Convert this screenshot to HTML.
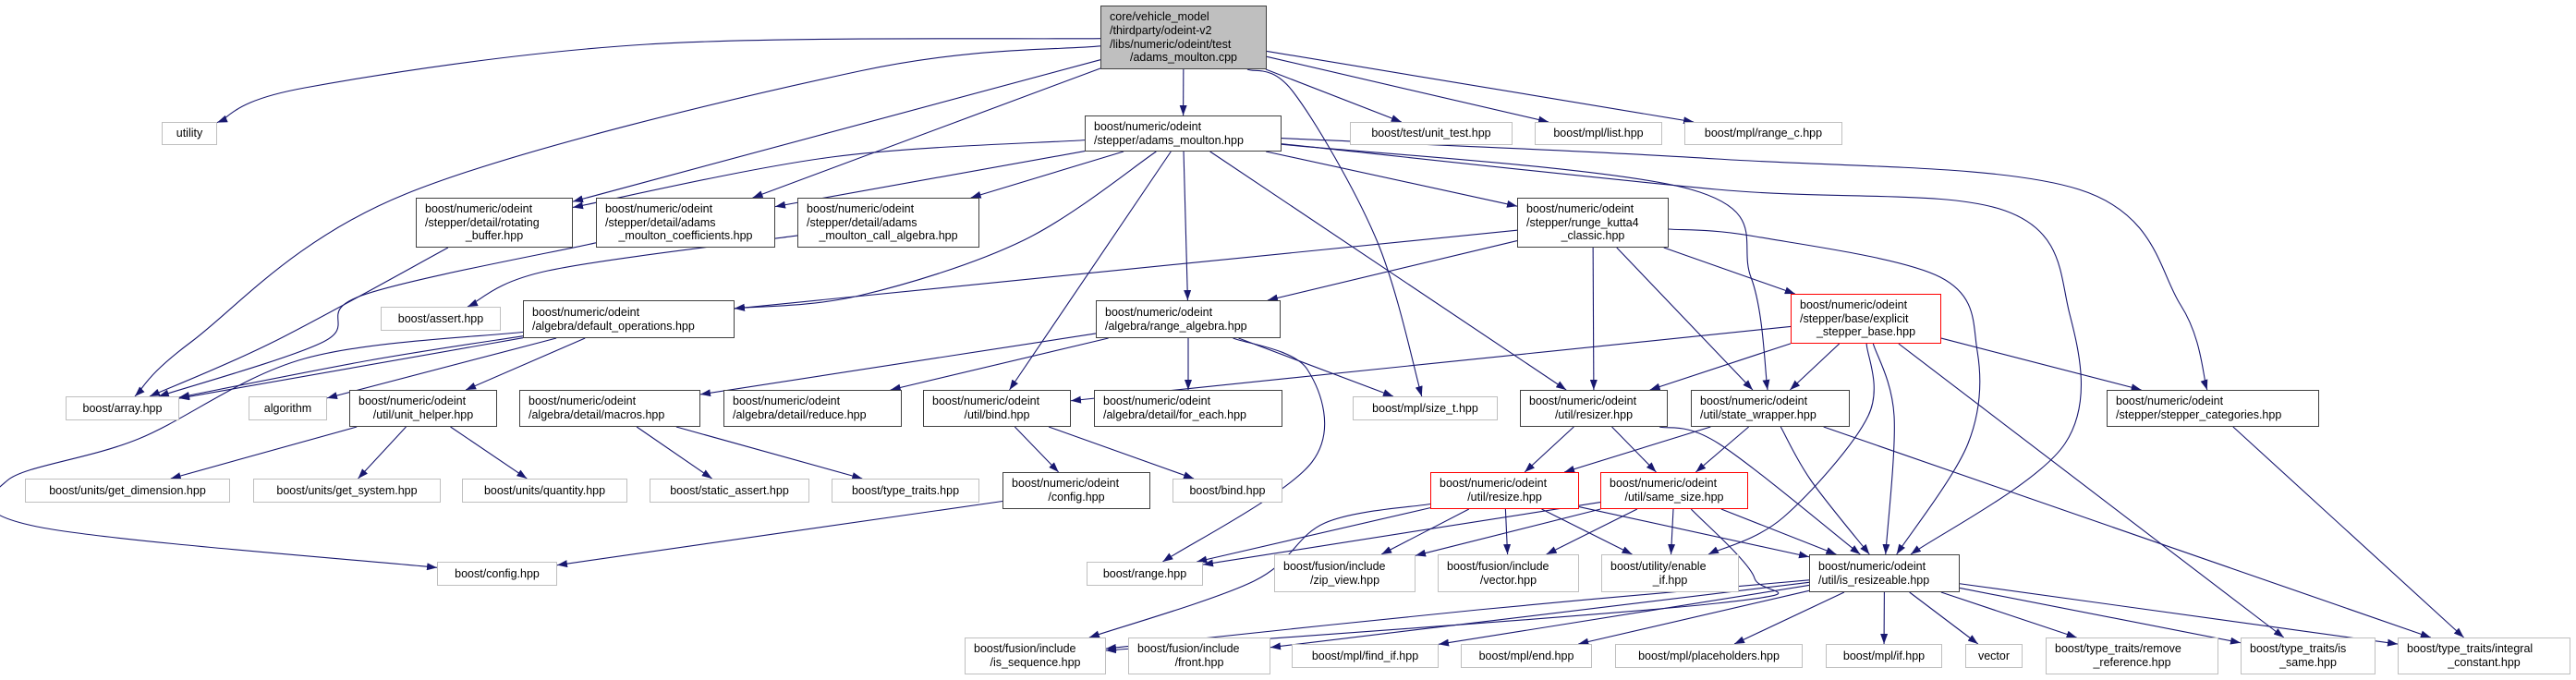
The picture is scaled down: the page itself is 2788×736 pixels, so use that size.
<!DOCTYPE html>
<html><head><meta charset="utf-8"><style>
html,body{margin:0;padding:0;background:#fff;}
#wrap{position:relative;width:2788px;height:736px;overflow:hidden;background:#fff;}
svg{position:absolute;left:0;top:0;}
.n{position:absolute;box-sizing:border-box;border:1px solid #404040;background:#fff;font-family:"Liberation Sans",sans-serif;font-size:12.5px;line-height:14.6px;color:#000;display:flex;flex-direction:column;justify-content:center;padding:0 9px;white-space:nowrap;overflow:visible;}
.g{border-color:#bfbfbf;}
.r{border-color:#ff0000;}
.root{background:#bfbfbf;}
.n span{display:block;text-align:left;}
.n span.c{text-align:center;}
</style></head><body><div id="wrap">
<svg id="s" width="2788" height="736" viewBox="0 0 2788 736">
<defs><marker id="a" markerUnits="userSpaceOnUse" markerWidth="11" markerHeight="8" refX="11" refY="4" orient="auto"><path d="M0,0 L11,4 L0,8 z" fill="#191970"/></marker></defs>
<g id="e" fill="none" stroke="#191970" stroke-width="1.1"></g>
</svg>
<div class="n root" id="root" style="left:1191px;top:6px;width:180px;height:69px"><span>core/vehicle_model</span><span>/thirdparty/odeint-v2</span><span>/libs/numeric/odeint/test</span><span class="c">/adams_moulton.cpp</span></div>
<div class="n g" id="utility" style="left:175px;top:132px;width:60px;height:25px"><span class="c">utility</span></div>
<div class="n" id="amh" style="left:1174px;top:125px;width:213px;height:39px"><span>boost/numeric/odeint</span><span>/stepper/adams_moulton.hpp</span></div>
<div class="n g" id="ut" style="left:1461px;top:132px;width:176px;height:25px"><span class="c">boost/test/unit_test.hpp</span></div>
<div class="n g" id="list" style="left:1661px;top:132px;width:138px;height:25px"><span class="c">boost/mpl/list.hpp</span></div>
<div class="n g" id="rangec" style="left:1823px;top:132px;width:171px;height:25px"><span class="c">boost/mpl/range_c.hpp</span></div>
<div class="n" id="rot" style="left:450px;top:214px;width:170px;height:54px"><span>boost/numeric/odeint</span><span>/stepper/detail/rotating</span><span class="c">_buffer.hpp</span></div>
<div class="n" id="coef" style="left:645px;top:214px;width:194px;height:54px"><span>boost/numeric/odeint</span><span>/stepper/detail/adams</span><span class="c">_moulton_coefficients.hpp</span></div>
<div class="n" id="call" style="left:863px;top:214px;width:197px;height:54px"><span>boost/numeric/odeint</span><span>/stepper/detail/adams</span><span class="c">_moulton_call_algebra.hpp</span></div>
<div class="n" id="rk4" style="left:1642px;top:214px;width:164px;height:54px"><span>boost/numeric/odeint</span><span>/stepper/runge_kutta4</span><span class="c">_classic.hpp</span></div>
<div class="n g" id="assert" style="left:412px;top:332px;width:130px;height:26px"><span class="c">boost/assert.hpp</span></div>
<div class="n" id="defop" style="left:566px;top:325px;width:229px;height:41px"><span>boost/numeric/odeint</span><span>/algebra/default_operations.hpp</span></div>
<div class="n" id="ralg" style="left:1186px;top:325px;width:200px;height:41px"><span>boost/numeric/odeint</span><span>/algebra/range_algebra.hpp</span></div>
<div class="n r" id="esb" style="left:1938px;top:318px;width:163px;height:54px"><span>boost/numeric/odeint</span><span>/stepper/base/explicit</span><span class="c">_stepper_base.hpp</span></div>
<div class="n g" id="array" style="left:71px;top:429px;width:123px;height:26px"><span class="c">boost/array.hpp</span></div>
<div class="n g" id="algo" style="left:269px;top:429px;width:85px;height:26px"><span class="c">algorithm</span></div>
<div class="n" id="unith" style="left:378px;top:422px;width:160px;height:40px"><span>boost/numeric/odeint</span><span class="c">/util/unit_helper.hpp</span></div>
<div class="n" id="macros" style="left:562px;top:422px;width:196px;height:40px"><span>boost/numeric/odeint</span><span>/algebra/detail/macros.hpp</span></div>
<div class="n" id="reduce" style="left:783px;top:422px;width:193px;height:40px"><span>boost/numeric/odeint</span><span>/algebra/detail/reduce.hpp</span></div>
<div class="n" id="ubind" style="left:999px;top:422px;width:160px;height:40px"><span>boost/numeric/odeint</span><span class="c">/util/bind.hpp</span></div>
<div class="n" id="foreach" style="left:1184px;top:422px;width:204px;height:40px"><span>boost/numeric/odeint</span><span>/algebra/detail/for_each.hpp</span></div>
<div class="n g" id="sizet" style="left:1464px;top:429px;width:157px;height:26px"><span class="c">boost/mpl/size_t.hpp</span></div>
<div class="n" id="resizer" style="left:1645px;top:422px;width:160px;height:40px"><span>boost/numeric/odeint</span><span class="c">/util/resizer.hpp</span></div>
<div class="n" id="sw" style="left:1830px;top:422px;width:172px;height:40px"><span>boost/numeric/odeint</span><span>/util/state_wrapper.hpp</span></div>
<div class="n" id="stcat" style="left:2280px;top:422px;width:230px;height:40px"><span>boost/numeric/odeint</span><span>/stepper/stepper_categories.hpp</span></div>
<div class="n g" id="getdim" style="left:27px;top:518px;width:222px;height:26px"><span class="c">boost/units/get_dimension.hpp</span></div>
<div class="n g" id="getsys" style="left:274px;top:518px;width:203px;height:26px"><span class="c">boost/units/get_system.hpp</span></div>
<div class="n g" id="qty" style="left:500px;top:518px;width:179px;height:26px"><span class="c">boost/units/quantity.hpp</span></div>
<div class="n g" id="sassert" style="left:703px;top:518px;width:173px;height:26px"><span class="c">boost/static_assert.hpp</span></div>
<div class="n g" id="tt" style="left:900px;top:518px;width:160px;height:26px"><span class="c">boost/type_traits.hpp</span></div>
<div class="n" id="ocfg" style="left:1085px;top:511px;width:160px;height:40px"><span>boost/numeric/odeint</span><span class="c">/config.hpp</span></div>
<div class="n g" id="bbind" style="left:1269px;top:518px;width:119px;height:26px"><span class="c">boost/bind.hpp</span></div>
<div class="n r" id="resize" style="left:1548px;top:511px;width:161px;height:40px"><span>boost/numeric/odeint</span><span class="c">/util/resize.hpp</span></div>
<div class="n r" id="same" style="left:1732px;top:511px;width:160px;height:40px"><span>boost/numeric/odeint</span><span class="c">/util/same_size.hpp</span></div>
<div class="n g" id="bcfg" style="left:473px;top:608px;width:130px;height:26px"><span class="c">boost/config.hpp</span></div>
<div class="n g" id="range" style="left:1176px;top:608px;width:126px;height:26px"><span class="c">boost/range.hpp</span></div>
<div class="n g" id="zip" style="left:1379px;top:600px;width:153px;height:41px"><span>boost/fusion/include</span><span class="c">/zip_view.hpp</span></div>
<div class="n g" id="fvec" style="left:1556px;top:600px;width:153px;height:41px"><span>boost/fusion/include</span><span class="c">/vector.hpp</span></div>
<div class="n g" id="enable" style="left:1733px;top:600px;width:149px;height:41px"><span>boost/utility/enable</span><span class="c">_if.hpp</span></div>
<div class="n" id="isr" style="left:1958px;top:600px;width:163px;height:41px"><span>boost/numeric/odeint</span><span>/util/is_resizeable.hpp</span></div>
<div class="n g" id="isseq" style="left:1044px;top:690px;width:153px;height:40px"><span>boost/fusion/include</span><span class="c">/is_sequence.hpp</span></div>
<div class="n g" id="front" style="left:1221px;top:690px;width:154px;height:40px"><span>boost/fusion/include</span><span class="c">/front.hpp</span></div>
<div class="n g" id="findif" style="left:1398px;top:697px;width:159px;height:26px"><span class="c">boost/mpl/find_if.hpp</span></div>
<div class="n g" id="end" style="left:1581px;top:697px;width:142px;height:26px"><span class="c">boost/mpl/end.hpp</span></div>
<div class="n g" id="ph" style="left:1748px;top:697px;width:203px;height:26px"><span class="c">boost/mpl/placeholders.hpp</span></div>
<div class="n g" id="mif" style="left:1976px;top:697px;width:126px;height:26px"><span class="c">boost/mpl/if.hpp</span></div>
<div class="n g" id="vec" style="left:2127px;top:697px;width:62px;height:26px"><span class="c">vector</span></div>
<div class="n g" id="rr" style="left:2214px;top:690px;width:187px;height:40px"><span>boost/type_traits/remove</span><span class="c">_reference.hpp</span></div>
<div class="n g" id="issame" style="left:2425px;top:690px;width:146px;height:40px"><span>boost/type_traits/is</span><span class="c">_same.hpp</span></div>
<div class="n g" id="ic" style="left:2595px;top:690px;width:187px;height:40px"><span>boost/type_traits/integral</span><span class="c">_constant.hpp</span></div>
</div>
<script>
(function(){
function R(id){var e=document.getElementById(id);var x=parseFloat(e.style.left),y=parseFloat(e.style.top),w=parseFloat(e.style.width),h=parseFloat(e.style.height);return {cx:x+w/2,cy:y+h/2,hw:w/2,hh:h/2};}
function bp(r,p){var dx=p[0]-r.cx,dy=p[1]-r.cy;if(dx===0&&dy===0)return [r.cx,r.cy];var t=Math.min(dx?r.hw/Math.abs(dx):1e9,dy?r.hh/Math.abs(dy):1e9);return [r.cx+dx*t,r.cy+dy*t];}
var E=[
['root','utility',[[700,48],[330,95]]],
['root','array',[[930,77],[439,210],[207,370]]],
['root','rot'],['root','coef'],['root','amh'],['root','ut'],['root','list'],['root','rangec'],
['root','sizet',[[1400,100],[1490,260]]],
['amh','rot',[[900,170]]],['amh','coef'],['amh','call'],
['amh','defop',[[1108,260],[930,320]]],
['amh','ubind'],['amh','ralg'],['amh','resizer'],['amh','rk4'],
['amh','sw',[[1830,205],[1895,300]]],
['amh','isr',[[1858,205],[2170,228],[2240,340],[2235,480]]],
['amh','stcat',[[1858,172],[2250,205],[2360,330]]],
['rk4','defop'],['rk4','ralg'],['rk4','resizer'],['rk4','sw'],['rk4','esb'],
['rk4','isr',[[1900,256],[2100,300],[2140,380],[2130,480]]],
['ralg','macros'],['ralg','reduce'],['ralg','foreach'],['ralg','sizet'],
['ralg','range',[[1415,400],[1420,500]]],
['esb','ubind'],['esb','resizer'],['esb','sw'],['esb','stcat'],['esb','isr',[[2050,450]]],
['esb','enable',[[2022,450],[1930,560]]],['esb','issame'],
['sw','resize'],['sw','same'],['sw','isr',[[1960,520]]],['sw','ic'],
['stcat','ic'],
['resizer','resize'],['resizer','same'],['resizer','isr',[[1860,480]]],
['resize','range'],['resize','zip'],['resize','fvec'],['resize','enable'],['resize','isr'],
['resize','isseq',[[1434,566],[1357,629]]],
['same','range'],['same','zip'],['same','fvec'],['same','enable'],['same','isr'],
['same','isseq',[[1899,626],[1858,653]]],
['isr','isseq',[[1600,660]]],['isr','front'],['isr','findif'],['isr','end'],['isr','ph'],['isr','mif'],['isr','vec'],['isr','rr'],['isr','issame'],['isr','ic'],
['unith','getdim'],['unith','getsys'],['unith','qty'],
['macros','sassert'],['macros','tt'],
['ubind','ocfg'],['ubind','bbind'],['ocfg','bcfg'],
['defop','array',[[400,390]]],['defop','array'],['defop','algo'],['defop','unith'],
['defop','bcfg',[[330,388],[150,475],[8,520],[40,570]]],
['rot','array',[[296,370]]],
['coef','array',[[391,320],[350,370]]],
['call','assert',[[593,293]]]
];
var g=document.getElementById('e'),ns='http://www.w3.org/2000/svg';
E.forEach(function(ed){
 var a=R(ed[0]),b=R(ed[1]),w=ed[2]||[];
 var s=bp(a,w.length?w[0]:[b.cx,b.cy]);var t=bp(b,w.length?w[w.length-1]:[a.cx,a.cy]);
 var P=[s].concat(w,[t]);var d='M'+P[0][0]+','+P[0][1];
 if(P.length==2){d+=' L'+t[0]+','+t[1];}
 else{for(var i=0;i<P.length-1;i++){var p0=P[i-1]||P[i],p1=P[i],p2=P[i+1],p3=P[i+2]||p2;
  var c1=[p1[0]+(p2[0]-p0[0])/6,p1[1]+(p2[1]-p0[1])/6],c2=[p2[0]-(p3[0]-p1[0])/6,p2[1]-(p3[1]-p1[1])/6];
  d+=' C'+c1[0]+','+c1[1]+' '+c2[0]+','+c2[1]+' '+p2[0]+','+p2[1];}}
 var p=document.createElementNS(ns,'path');p.setAttribute('d',d);p.setAttribute('marker-end','url(#a)');g.appendChild(p);
});
})();
</script>
</body></html>
